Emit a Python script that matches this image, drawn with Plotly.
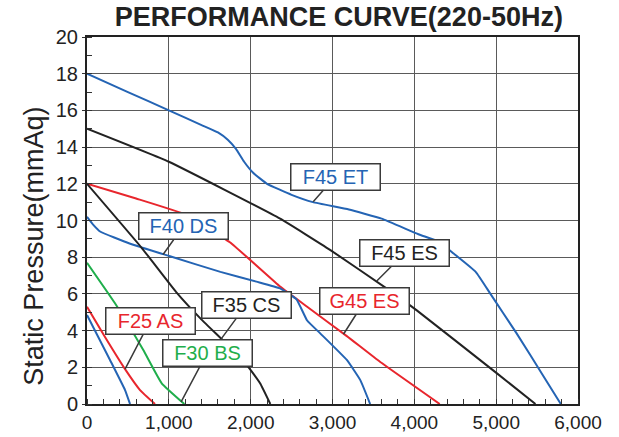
import plotly.graph_objects as go

# Airflow (CMH) vs static pressure (mmAq) for each fan model
f45et_x = [0, 500, 1000, 1400, 1600, 1720, 1820, 1920, 2030, 2200, 2500, 2760, 3200, 3600, 4050, 4300, 4480, 4750, 4930, 5250, 5580, 5790]
f45et_y = [18, 17.0, 16.0, 15.2, 14.8, 14.4, 13.9, 13.2, 12.6, 12.0, 11.4, 11.0, 10.6, 10.1, 9.25, 8.85, 8.2, 7.2, 6.0, 3.85, 1.5, 0]

f45es_x = [0, 1000, 2360, 2970, 3660, 4030, 5010, 5480]
f45es_y = [15, 13.2, 10.1, 8.4, 6.3, 5.1, 1.67, 0]

g45es_x = [0, 600, 1220, 1750, 2360, 2690, 3175, 3580, 4310]
g45es_y = [12, 11.2, 10.3, 8.8, 6.4, 5.3, 3.7, 2.3, 0]

f40ds_x = [0, 80, 160, 520, 1015, 1630, 2070, 2360, 2560, 2690, 2850, 3175, 3340, 3460]
f40ds_y = [10.2, 9.75, 9.4, 8.75, 8.05, 7.2, 6.67, 6.3, 5.7, 4.55, 3.85, 2.4, 1.3, 0]

f35cs_x = [0, 670, 1090, 1400, 1700, 1950, 2115, 2240]
f35cs_y = [12, 8.5, 6.1, 4.6, 3.3, 2.15, 1.13, 0]

f30bs_x = [0, 342, 688, 913, 1190]
f30bs_y = [7.7, 5.49, 2.94, 1.13, 0]

f25as_x = [0, 220, 465, 648, 831]
f25as_y = [5.3, 3.65, 1.9, 0.76, 0]

small_x = [0, 281, 465, 526]
small_y = [4.85, 2.4, 0.76, 0]

x_ticks = [0, 1000, 2000, 3000, 4000, 5000, 6000]
x_tick_text = ["0", "1,000", "2,000", "3,000", "4,000", "5,000", "6,000"]
y_ticks = [0, 2, 4, 6, 8, 10, 12, 14, 16, 18, 20]

BLUE = "#2464b4"
RED = "#e8262d"
GREEN = "#1fae4b"
BLACK = "#222222"

FONT = "Liberation Sans, Arial, sans-serif"

series = [
    (f45et_x, f45et_y, BLUE),
    (f45es_x, f45es_y, BLACK),
    (g45es_x, g45es_y, RED),
    (f40ds_x, f40ds_y, BLUE),
    (f35cs_x, f35cs_y, BLACK),
    (f30bs_x, f30bs_y, GREEN),
    (f25as_x, f25as_y, RED),
    (small_x, small_y, BLUE),
]

fig = go.Figure()
for xs, ys, color in series:
    fig.add_trace(go.Scatter(
        x=xs, y=ys, mode="lines",
        line=dict(color=color, width=2, shape="spline", smoothing=0.35),
        showlegend=False, hoverinfo="skip",
    ))

# Callout labels: (text, colour, tip x, tip y, box offset px)
callouts = [
    ("F45 ET", BLUE, 2764, 11.02, 22, -25),
    ("F40 DS", BLUE, 930, 8.15, 20, -28),
    ("F45 ES", BLACK, 3541, 6.7, 28, -28),
    ("G45 ES", RED, 3134, 3.8, 21, -33),
    ("F35 CS", BLACK, 1640, 3.55, 25, -34),
    ("F25 AS", RED, 465, 1.9, 25, -48),
    ("F30 BS", GREEN, 1150, 0.12, 26, -49),
]
for text, color, tx, ty, ax, ay in callouts:
    fig.add_annotation(
        x=tx, y=ty, ax=ax, ay=ay, text=text,
        showarrow=True, arrowhead=0, arrowwidth=1.5, arrowcolor="#3a3a3a",
        font=dict(family=FONT, size=20, color=color),
        bgcolor="white", bordercolor="#3a3a3a", borderwidth=1.5,
        width=86, height=23, borderpad=1,
    )

# Vertical axis title
fig.add_annotation(
    xref="paper", yref="paper", x=-0.107, y=0.43,
    text="Static Pressure(mmAq)", textangle=-90, showarrow=False,
    font=dict(family=FONT, size=27, color="#222222"),
    xanchor="center", yanchor="middle",
)

fig.update_layout(
    width=619, height=437,
    margin=dict(l=87, r=41, t=37, b=33),
    paper_bgcolor="white", plot_bgcolor="white",
    title=dict(
        text="<b>PERFORMANCE CURVE(220-50Hz)</b>",
        x=0.513, xref="paper", y=1 - 17 / 437, yref="container",
        xanchor="center", yanchor="middle",
        font=dict(family=FONT, size=27, color="#222222"),
    ),
)

fig.update_xaxes(
    range=[0, 6000], tickvals=x_ticks, ticktext=x_tick_text,
    showgrid=True, gridcolor="#5a5a5a", gridwidth=1.3,
    showline=True, linecolor="#222222", linewidth=2, mirror=True,
    ticks="", zeroline=False, automargin=False,
    tickfont=dict(family=FONT, size=19, color="#222222"),
    minor=dict(dtick=200, ticks="inside", ticklen=5, tickcolor="#333333", showgrid=False),
)
fig.update_yaxes(
    range=[0, 20], tickvals=y_ticks,
    showgrid=True, gridcolor="#5a5a5a", gridwidth=1.3,
    showline=True, linecolor="#222222", linewidth=2, mirror=True,
    ticks="outside", ticklen=3, tickcolor="#333333", zeroline=False, automargin=False,
    tickfont=dict(family=FONT, size=20, color="#222222"),
    minor=dict(dtick=1, ticks="inside", ticklen=5, tickcolor="#333333", showgrid=False),
)

fig.write_html("out.html")
